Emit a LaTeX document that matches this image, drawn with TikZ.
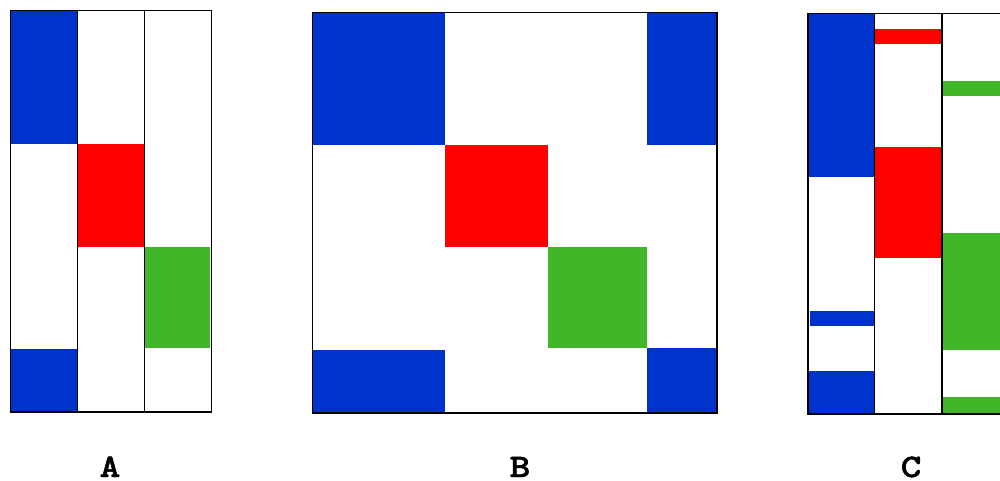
\documentclass[tikz,border=0pt]{standalone}
\usepackage{fontspec}
\newfontfamily\panelfont{lmmonolt10-bold.otf}[FakeStretch=1.2,FakeBold=1.5]
\usepackage{tikz}
\definecolor{segblue}{RGB}{0,51,204}
\definecolor{segred}{RGB}{255,0,0}
\definecolor{seggreen}{RGB}{63,183,41}
\begin{document}
\begin{tikzpicture}[x=0.03cm, y=-0.03cm,
  frame/.style={draw=black, line width=1.3pt},
  sep/.style={draw=black, line width=1.1pt},
  bl/.style={fill=segblue},
  rd/.style={fill=segred},
  gr/.style={fill=seggreen},
  lbl/.style={font=\panelfont\fontsize{28}{32}\selectfont, inner sep=0pt, anchor=base}]
\useasboundingbox (0,0) rectangle (1000,481);
% panel A
\fill[bl] (10.5,10.5) rectangle (77.5,144.5);
\fill[bl] (10.5,348.5) rectangle (77.5,412);
\fill[rd] (77.5,144.5) rectangle (143.5,246.5);
\fill[gr] (144.5,246.5) rectangle (209.5,348);
\draw[sep] (77.5,10.5) -- (77.5,412);
\draw[sep] (144.5,10.5) -- (144.5,412);
\draw[frame] (10.5,10.5) rectangle (211.5,412);
\node[lbl] (labA) at (110,477) {A};
% panel B
\fill[bl] (312.5,12.5) rectangle (444.5,145.5);
\fill[bl] (646.5,12.5) rectangle (717,145.5);
\fill[rd] (444.5,145.5) rectangle (548,246.5);
\fill[gr] (548,246.5) rectangle (646.5,348);
\fill[bl] (312.5,350) rectangle (444.5,413);
\fill[bl] (646.5,348) rectangle (717,413);
\draw[frame] (312.5,12.5) rectangle (717,413);
\node[lbl] (labB) at (520,477) {B};
% panel C, cut at the right edge
\begin{scope}
\clip (800,0) rectangle (1000,440);
\fill[bl] (808,13.5) rectangle (874.5,177.5);
\fill[bl] (810,310.5) rectangle (874.5,325.5);
\fill[bl] (808,370.5) rectangle (874.5,414);
\fill[rd] (874.5,29) rectangle (940.5,44.5);
\fill[rd] (874.5,147) rectangle (940.5,257.5);
\fill[gr] (942,81) rectangle (1005,96.5);
\fill[gr] (942,233.5) rectangle (1005,350);
\fill[gr] (942,396.5) rectangle (1005,412.5);
\draw[sep] (874.5,13.5) -- (874.5,414);
\draw[sep] (942,13.5) -- (942,414);
\draw[frame] (808,13.5) rectangle (1010,414);
\end{scope}
\node[lbl] (labC) at (911,477) {C};
\end{tikzpicture}
\end{document}
